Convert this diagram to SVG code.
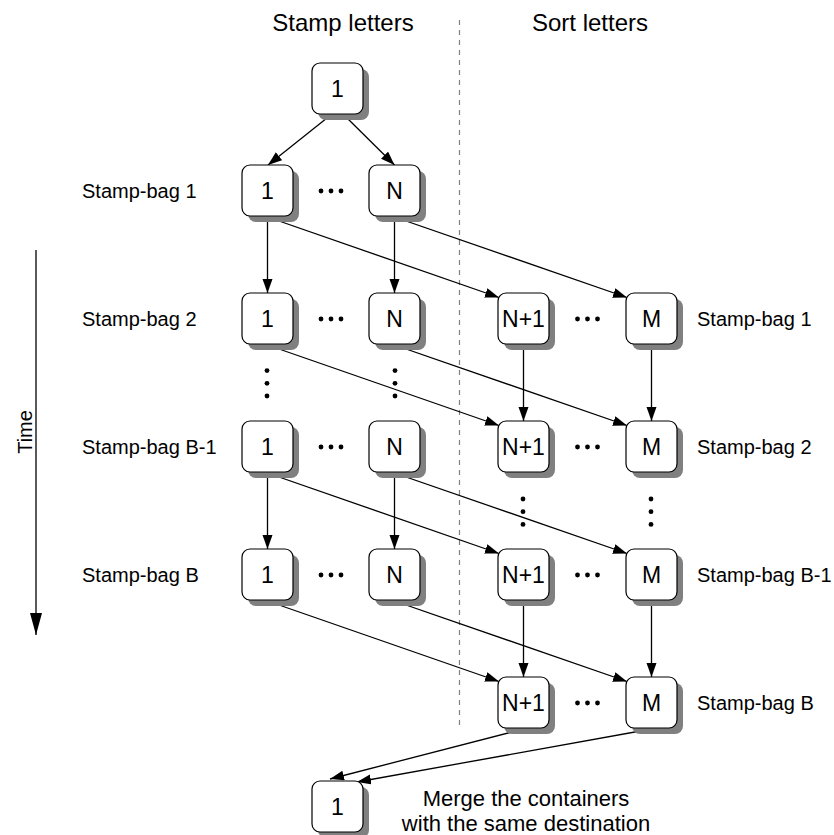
<svg xmlns="http://www.w3.org/2000/svg" width="834" height="835" viewBox="0 0 834 835">
  <style>
    text { font-family: "Liberation Sans", Arial, Helvetica, sans-serif; fill: #000; }
    .hdr { font-size: 24px; text-anchor: middle; }
    .lbl { font-size: 20px; }
    .nt { font-size: 23px; text-anchor: middle; }
    .note { font-size: 22px; text-anchor: middle; }
    .box { fill: #fff; stroke: #000; stroke-width: 1.2; }
    .shadow { fill: #808080; }
    .edge { fill: none; stroke: #000; stroke-width: 1.3; }
    .dot { fill: #000; }
  </style>
  <defs>
    <marker id="arrow" markerUnits="userSpaceOnUse" markerWidth="15" markerHeight="11" refX="14" refY="5" orient="auto">
      <path d="M0,0 L14,5 L0,10 z" fill="#000"/>
    </marker>
    <marker id="bigArrow" markerUnits="userSpaceOnUse" markerWidth="23" markerHeight="13" refX="22" refY="6" orient="auto">
      <path d="M0,0 L22,6 L0,12 z" fill="#000"/>
    </marker>
    <!-- node shape: shadow plus rounded box, 51x51 -->
    <g id="nodeShape">
      <rect class="shadow" x="6" y="6" width="51" height="51" rx="8"/>
      <rect class="box" x="0" y="0" width="51" height="51" rx="8"/>
    </g>
    <g id="hdots">
      <circle class="dot" cx="-10" cy="0" r="2.4"/>
      <circle class="dot" cx="0" cy="0" r="2.4"/>
      <circle class="dot" cx="10" cy="0" r="2.4"/>
    </g>
    <g id="vdots">
      <circle class="dot" cx="0" cy="-12.7" r="2.4"/>
      <circle class="dot" cx="0" cy="0" r="2.4"/>
      <circle class="dot" cx="0" cy="12.7" r="2.4"/>
    </g>
  </defs>

  <rect width="834" height="835" fill="#fff"/>

  <!-- headers and divider -->
  <text class="hdr" x="343" y="31">Stamp letters</text>
  <text class="hdr" x="590" y="31">Sort letters</text>
  <line x1="459.5" y1="20" x2="459.5" y2="730" stroke="#808080" stroke-width="1.2" stroke-dasharray="5,5"/>

  <!-- time axis -->
  <line x1="36" y1="250" x2="36" y2="635" class="edge" marker-end="url(#bigArrow)"/>
  <text class="lbl" transform="translate(32,432) rotate(-90)" text-anchor="middle">Time</text>

  <!-- row labels -->
  <g id="labels">
    <text class="lbl" x="82" y="198">Stamp-bag 1</text>
    <text class="lbl" x="82" y="326">Stamp-bag 2</text>
    <text class="lbl" x="82" y="454">Stamp-bag B-1</text>
    <text class="lbl" x="82" y="582">Stamp-bag B</text>
    <text class="lbl" x="697" y="326">Stamp-bag 1</text>
    <text class="lbl" x="697" y="454">Stamp-bag 2</text>
    <text class="lbl" x="697" y="582">Stamp-bag B-1</text>
    <text class="lbl" x="697" y="710">Stamp-bag B</text>
  </g>

  <!-- connectors -->
  <g id="connectors">
    <line class="edge" x1="332" y1="114" x2="268" y2="165" marker-end="url(#arrow)"/>
    <line class="edge" x1="343" y1="114" x2="394.5" y2="165" marker-end="url(#arrow)"/>

    <!-- stamp-bag 1 -->
    <line class="edge" x1="267.5" y1="217" x2="267.5" y2="293" marker-end="url(#arrow)"/>
    <line class="edge" x1="394.5" y1="217" x2="394.5" y2="293" marker-end="url(#arrow)"/>
    <line class="edge" x1="267.5" y1="217" x2="499" y2="297.5" marker-end="url(#arrow)"/>
    <line class="edge" x1="394.5" y1="217" x2="627" y2="297.5" marker-end="url(#arrow)"/>

    <!-- stamp-bag 2 -->
    <line class="edge" x1="267.5" y1="345" x2="499" y2="425.5" marker-end="url(#arrow)"/>
    <line class="edge" x1="394.5" y1="345" x2="627" y2="425.5" marker-end="url(#arrow)"/>
    <line class="edge" x1="523.5" y1="345" x2="523.5" y2="421" marker-end="url(#arrow)"/>
    <line class="edge" x1="651.5" y1="345" x2="651.5" y2="421" marker-end="url(#arrow)"/>

    <!-- stamp-bag B-1 -->
    <line class="edge" x1="267.5" y1="473" x2="267.5" y2="549" marker-end="url(#arrow)"/>
    <line class="edge" x1="394.5" y1="473" x2="394.5" y2="549" marker-end="url(#arrow)"/>
    <line class="edge" x1="267.5" y1="473" x2="499" y2="553.5" marker-end="url(#arrow)"/>
    <line class="edge" x1="394.5" y1="473" x2="627" y2="553.5" marker-end="url(#arrow)"/>

    <!-- stamp-bag B -->
    <line class="edge" x1="267.5" y1="601" x2="499" y2="681.5" marker-end="url(#arrow)"/>
    <line class="edge" x1="394.5" y1="601" x2="627" y2="681.5" marker-end="url(#arrow)"/>
    <line class="edge" x1="523.5" y1="601" x2="523.5" y2="677" marker-end="url(#arrow)"/>
    <line class="edge" x1="651.5" y1="601" x2="651.5" y2="677" marker-end="url(#arrow)"/>

    <!-- merge -->
    <line class="edge" x1="523.5" y1="729" x2="330" y2="779" marker-end="url(#arrow)"/>
    <line class="edge" x1="651.5" y1="729" x2="357" y2="782" marker-end="url(#arrow)"/>
  </g>

  <!-- ellipses -->
  <use href="#hdots" x="331" y="191"/>
  <use href="#hdots" x="331" y="319"/>
  <use href="#hdots" x="331" y="447"/>
  <use href="#hdots" x="331" y="575"/>
  <use href="#hdots" x="587.5" y="319"/>
  <use href="#hdots" x="587.5" y="447"/>
  <use href="#hdots" x="587.5" y="575"/>
  <use href="#hdots" x="587.5" y="703"/>
  <use href="#vdots" x="267" y="383.3"/>
  <use href="#vdots" x="395" y="383.3"/>
  <use href="#vdots" x="523" y="511.7"/>
  <use href="#vdots" x="651" y="511.7"/>

  <!-- nodes -->
  <g id="node-start"><use href="#nodeShape" x="312" y="63"/><text class="nt" x="337.5" y="97">1</text></g>

  <g id="node-r1-1"><use href="#nodeShape" x="242" y="165"/><text class="nt" x="267.5" y="199">1</text></g>
  <g id="node-r1-N"><use href="#nodeShape" x="369" y="165"/><text class="nt" x="394.5" y="199">N</text></g>

  <g id="node-r2-1"><use href="#nodeShape" x="242" y="293"/><text class="nt" x="267.5" y="327">1</text></g>
  <g id="node-r2-N"><use href="#nodeShape" x="369" y="293"/><text class="nt" x="394.5" y="327">N</text></g>
  <g id="node-r2-N1"><use href="#nodeShape" x="498" y="293"/><text class="nt" x="523.5" y="327">N+1</text></g>
  <g id="node-r2-M"><use href="#nodeShape" x="626" y="293"/><text class="nt" x="651.5" y="327">M</text></g>

  <g id="node-r3-1"><use href="#nodeShape" x="242" y="421"/><text class="nt" x="267.5" y="455">1</text></g>
  <g id="node-r3-N"><use href="#nodeShape" x="369" y="421"/><text class="nt" x="394.5" y="455">N</text></g>
  <g id="node-r3-N1"><use href="#nodeShape" x="498" y="421"/><text class="nt" x="523.5" y="455">N+1</text></g>
  <g id="node-r3-M"><use href="#nodeShape" x="626" y="421"/><text class="nt" x="651.5" y="455">M</text></g>

  <g id="node-r4-1"><use href="#nodeShape" x="242" y="549"/><text class="nt" x="267.5" y="583">1</text></g>
  <g id="node-r4-N"><use href="#nodeShape" x="369" y="549"/><text class="nt" x="394.5" y="583">N</text></g>
  <g id="node-r4-N1"><use href="#nodeShape" x="498" y="549"/><text class="nt" x="523.5" y="583">N+1</text></g>
  <g id="node-r4-M"><use href="#nodeShape" x="626" y="549"/><text class="nt" x="651.5" y="583">M</text></g>

  <g id="node-r5-N1"><use href="#nodeShape" x="498" y="677"/><text class="nt" x="523.5" y="711">N+1</text></g>
  <g id="node-r5-M"><use href="#nodeShape" x="626" y="677"/><text class="nt" x="651.5" y="711">M</text></g>

  <g id="node-merge"><use href="#nodeShape" x="312" y="781"/><text class="nt" x="337.5" y="815">1</text></g>

  <text class="note" x="526" y="806">Merge the containers</text>
  <text class="note" x="526" y="831">with the same destination</text>
</svg>
